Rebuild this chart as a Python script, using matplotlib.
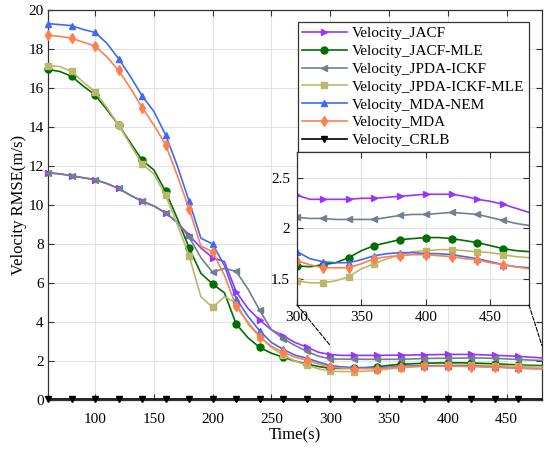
import matplotlib
matplotlib.use('Agg')
import matplotlib.pyplot as plt
from matplotlib.patches import ConnectionPatch
import numpy as np

plt.rcParams['font.family'] = ['Liberation Serif', 'DejaVu Serif']
plt.rcParams['font.size'] = 11

# time axis, one sample every 10 s
time = np.arange(60, 481, 10)

jacf = [11.65, 11.6, 11.5, 11.4, 11.3, 11.1, 10.85, 10.5, 10.2, 9.95, 9.6, 9.1,
        8.45, 7.8, 7.3, 7.1, 5.55, 4.7, 4.1, 3.6, 3.3, 2.95, 2.72, 2.45, 2.33,
        2.29, 2.29, 2.29, 2.29, 2.30, 2.30, 2.31, 2.32, 2.33, 2.34, 2.34, 2.34,
        2.32, 2.29, 2.27, 2.24, 2.20, 2.16]
jacf_mle = [16.95, 16.85, 16.6, 16.1, 15.65, 14.9, 14.1, 13.2, 12.3, 11.8, 10.7, 9.3,
            7.8, 6.5, 5.95, 5.5, 3.9, 3.2, 2.7, 2.4, 2.2, 2.0, 1.85, 1.72, 1.63,
            1.62, 1.64, 1.66, 1.71, 1.78, 1.83, 1.86, 1.89, 1.90, 1.91, 1.91, 1.90,
            1.88, 1.86, 1.83, 1.80, 1.78, 1.77]
jpda_ickf = [11.65, 11.6, 11.5, 11.4, 11.3, 11.1, 10.85, 10.5, 10.2, 9.95, 9.6, 9.1,
             8.35, 7.3, 6.55, 6.75, 6.6, 5.7, 4.6, 3.6, 3.15, 2.8, 2.5, 2.25, 2.11,
             2.10, 2.10, 2.09, 2.09, 2.09, 2.09, 2.11, 2.13, 2.14, 2.14, 2.15, 2.16,
             2.15, 2.14, 2.11, 2.08, 2.05, 2.03]
jpda_ickf_mle = [17.15, 17.1, 16.85, 16.3, 15.8, 15.0, 14.1, 13.1, 12.1, 11.6, 10.5, 9.0,
                 7.4, 5.3, 4.75, 5.3, 5.0, 3.9, 3.25, 2.7, 2.3, 2.0, 1.8, 1.6, 1.48,
                 1.46, 1.46, 1.48, 1.52, 1.60, 1.65, 1.70, 1.74, 1.77, 1.78, 1.79, 1.79,
                 1.78, 1.77, 1.76, 1.74, 1.72, 1.71]
mda_nem = [19.3, 19.25, 19.2, 19.0, 18.85, 18.3, 17.5, 16.6, 15.6, 14.8, 13.6, 12.0,
           10.2, 8.3, 8.0, 6.9, 5.2, 4.3, 3.55, 2.95, 2.6, 2.3, 2.15, 1.95, 1.77,
           1.70, 1.67, 1.66, 1.66, 1.69, 1.73, 1.75, 1.76, 1.76, 1.75, 1.75, 1.74,
           1.72, 1.70, 1.67, 1.64, 1.62, 1.61]
mda = [18.7, 18.65, 18.55, 18.35, 18.15, 17.6, 16.9, 16.0, 15.0, 14.1, 13.1, 11.5,
       9.8, 7.9, 7.6, 6.4, 4.8, 4.0, 3.25, 2.75, 2.45, 2.2, 2.05, 1.85, 1.68,
       1.64, 1.61, 1.61, 1.61, 1.65, 1.70, 1.72, 1.73, 1.74, 1.74, 1.73, 1.72,
       1.70, 1.69, 1.66, 1.64, 1.62, 1.60]
crlb = [0.05, 0.05, 0.05, 0.05, 0.05, 0.05, 0.05, 0.05, 0.05, 0.05, 0.05, 0.05,
        0.05, 0.05, 0.05, 0.05, 0.05, 0.05, 0.05, 0.05, 0.05, 0.05, 0.05, 0.05, 0.05,
        0.05, 0.05, 0.05, 0.05, 0.05, 0.05, 0.05, 0.05, 0.05, 0.05, 0.05, 0.05,
        0.05, 0.05, 0.05, 0.05, 0.05, 0.05]

series = [
    ('Velocity_JACF', jacf, '#9933FF', '>'),
    ('Velocity_JACF-MLE', jacf_mle, '#006E00', 'o'),
    ('Velocity_JPDA-ICKF', jpda_ickf, '#708090', '<'),
    ('Velocity_JPDA-ICKF-MLE', jpda_ickf_mle, '#BDB76B', 's'),
    ('Velocity_MDA-NEM', mda_nem, '#3D6BF5', '^'),
    ('Velocity_MDA', mda, '#FF7F50', 'd'),
    ('Velocity_CRLB', crlb, 'black', 'v'),
]
marks = slice(0, 42, 2)


def style_axes(ax, xpad, ypad):
    ax.grid(True, color='#E3E3E3', linewidth=0.8)
    ax.set_axisbelow(True)
    ax.tick_params(direction='in', top=True, right=True, length=4, color='#333333')
    ax.tick_params(axis='x', pad=xpad)
    ax.tick_params(axis='y', pad=ypad)
    for sp in ax.spines.values():
        sp.set_color('#333333')
        sp.set_linewidth(0.9)


fig = plt.figure(figsize=(5.5, 4.49), dpi=100)
ax = fig.add_axes([0.0873, 0.109, 0.898, 0.8687])

for label, vals, color, mk in series:
    ax.plot(time, vals, color=color, marker=mk, markevery=marks, markersize=5,
            linewidth=1.2, label=label, clip_on=False, zorder=3)

ax.set_xlim(60, 480)
ax.set_ylim(0, 20)
ax.set_xticks([100, 150, 200, 250, 300, 350, 400, 450])
ax.set_yticks(np.arange(0, 21, 2))
ax.set_xlabel('Time(s)', fontsize=12, labelpad=1)
ax.set_ylabel('Velocity RMSE(m/s)', fontsize=12, labelpad=1)
style_axes(ax, 9, 3)

leg = ax.legend(loc='upper right', bbox_to_anchor=(0.974, 0.969), borderaxespad=0,
                fancybox=False, framealpha=1, edgecolor='#333333', fontsize=11,
                handlelength=2.9, labelspacing=0.27, borderpad=0.3, handletextpad=0.35)
leg.get_frame().set_linewidth(0.9)

# zoomed inset
ins = fig.add_axes([0.54, 0.3207, 0.4218, 0.3408])
for label, vals, color, mk in series[:-1]:
    ins.plot(time, vals, color=color, marker=mk, markevery=marks, markersize=5,
             linewidth=1.2)
ins.set_xlim(300, 480)
ins.set_ylim(1.24, 2.76)
ins.set_xticks([300, 350, 400, 450])
ins.set_yticks([1.5, 2, 2.5])
ins.set_yticklabels(['1.5', '2', '2.5'])
style_axes(ins, 4, 5)

for xa, xd in [(0, 300), (1, 480)]:
    con = ConnectionPatch(xyA=(xa, 0), coordsA=ins.transAxes,
                          xyB=(xd, 2.8), coordsB=ax.transData,
                          linestyle='--', color='black', linewidth=0.8)
    fig.add_artist(con)

fig.savefig('out.png', dpi=100)
